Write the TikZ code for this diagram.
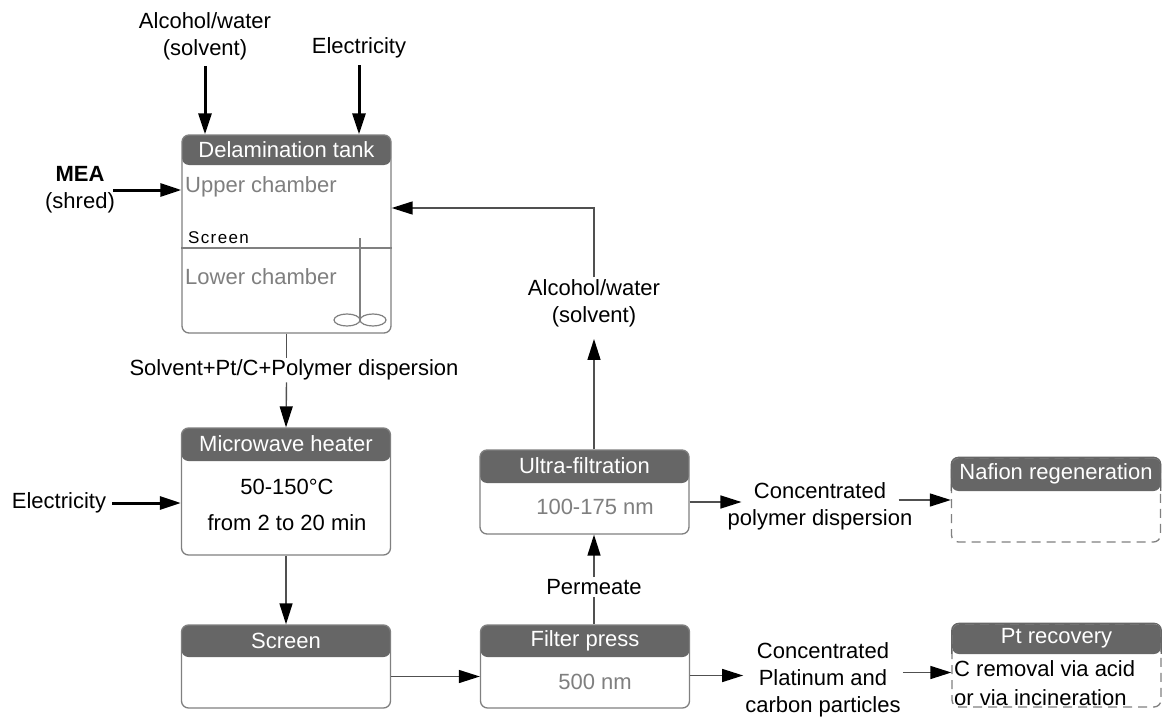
\documentclass[tikz,border=0pt]{standalone}
\usepackage{fontspec}
\setmainfont{Liberation Sans}
\usetikzlibrary{positioning,arrows.meta}

\definecolor{headgray}{HTML}{666666}
\definecolor{boxgray}{HTML}{808080}
\definecolor{linegray}{HTML}{505050}
\definecolor{softtext}{HTML}{7F7F7F}

\tikzset{
  unit/.style={draw=boxgray, line width=1.3pt, rounded corners=7pt, fill=white,
    minimum width=209pt, inner sep=0pt,
    path picture={\fill[headgray] (path picture bounding box.north west)
      rectangle ([yshift=-#1]path picture bounding box.north east);}},
  unit/.default=32pt,
  unitdash/.style={unit=#1, dash pattern=on 9pt off 6pt},
  unitdash/.default=32pt,
  head/.style={text=white, minimum height=#1, minimum width=209pt, anchor=north, inner sep=0pt},
  head/.default=32pt,
  headrim/.style={draw=headgray, line width=1.3pt, rounded corners=7pt},
  lbl/.style={align=center, inner sep=2pt},
  txt/.style={inner sep=1pt},
  soft/.style={txt, text=softtext},
  feed/.style={->, line width=3pt, draw=black},
  flow/.style={->, line width=1.4pt, draw=linegray},
}

\begin{document}
\begin{tikzpicture}[x=1pt, y=-1pt, font=\fontsize{22}{27}\selectfont,
    >={Triangle[length=21pt,width=13pt,color=black]}]
  \useasboundingbox (0,0) rectangle (1163,717);

  % Define the nodes
  \node (del) [unit=30pt, minimum height=198pt] at (286.5,234) {};
  \node (delhd) [head=30pt] at (del.north) {Delamination tank};
  \node (heat) [unit=33pt, minimum height=127pt] at (286,491.5) {};
  \node (heathd) [head=33pt] at (heat.north) {Microwave heater};
  \node (scr) [unit, minimum height=83pt] at (286,666.5) {};
  \node (scrhd) [head] at (scr.north) {Screen};
  \node (filt) [unit, minimum height=83pt] at (585,666.5) {};
  \node (filthd) [head] at (filt.north) {Filter press};
  \node (ultra) [unit=33pt, minimum height=84pt] at (584.5,492) {};
  \node (ultrahd) [head=33pt] at (ultra.north) {Ultra-filtration};
  \node (naf) [unitdash=33pt, minimum height=84pt] at (1056,500) {};
  \node (nafhd) [head=33pt] at (naf.north) {Nafion regeneration};
  \node (ptr) [unitdash=30pt, minimum height=83pt] at (1056.5,665.5) {};
  \node (ptrhd) [head=30pt] at (ptr.north) {Pt recovery};

  % Solid rim round the headers of the dashed boxes
  \draw[headrim] (nafhd.south west) -- (nafhd.north west) -- (nafhd.north east) -- (nafhd.south east);
  \draw[headrim] (ptrhd.south west) -- (ptrhd.north west) -- (ptrhd.north east) -- (ptrhd.south east);

  % Inside the boxes
  \coordinate (scrlvl) at (0,248);
  \draw[boxgray, line width=1.3pt] (del.west |- scrlvl) -- (del.east |- scrlvl);
  \node (upper) [soft, anchor=west] at (184,187) {Upper chamber};
  \node (mesh) [txt, anchor=west, font=\fontsize{17}{20}\selectfont\addfontfeature{LetterSpace=8}]
    at (187,238) {Screen};
  \node (lower) [soft, anchor=west] at (184,277) {Lower chamber};
  \draw[boxgray, line width=1.2pt] (360,238) -- (360,320);
  \draw[boxgray, line width=1.2pt] (347,320) ellipse [x radius=13, y radius=6];
  \draw[boxgray, line width=1.2pt] (373,320) ellipse [x radius=13, y radius=6];
  \node (temp) [txt] at (287,487) {50-150°C};
  \node (time) [txt] at (287,523) {from 2 to 20 min};
  \node (ufsize) [soft] at (595,507) {100-175 nm};
  \node (fpsize) [soft] at (595,682) {500 nm};
  \node (crem) [txt, align=left, anchor=west, font=\fontsize{22}{29}\selectfont]
    at (953,683) {C removal via acid\\or via incineration};

  % Stream labels
  \node (alc) [lbl] at (205,36) {Alcohol/water\\(solvent)};
  \node (elec) [lbl] at (359,48) {Electricity};
  \node (mea) [lbl] at (80,190) {\textbf{MEA}\\(shred)};
  \node (elec2) [lbl] at (59,503) {Electricity};
  \node (sol) [lbl] at (294,370) {Solvent+Pt/C+Polymer dispersion};
  \node (solv) [lbl] at (594,303) {Alcohol/water\\(solvent)};
  \node (perm) [lbl] at (594,587) {Permeate};
  \node (cpd) [lbl] at (820,506) {Concentrated\\polymer dispersion};
  \node (cpc) [lbl] at (823,680) {Concentrated\\Platinum and\\carbon particles};

  % Draw the arrows
  \draw[feed, shorten <=4pt] (alc.south) -- (alc.south |- del.north);
  \draw[feed, shorten <=5pt] (elec.south) -- (elec.south |- del.north);
  \draw[feed] ([xshift=-4pt]mea.east) -- (mea.east -| del.west);
  \draw[feed, shorten <=4pt] (elec2.east) -- (elec2.east -| heat.west);

  \draw[flow, -] (del.south) -- (del.south |- sol.north);
  \draw[flow] (del.south |- sol.south) -- (heat.north);
  \draw[flow] (heat.south) -- (scr.north);

  \coordinate (scrout) at ([yshift=-10pt]scr.east);
  \draw[flow] (scrout) -- (scrout -| filt.west);

  \coordinate (permup) at ([xshift=9pt]filt.north);
  \draw[flow, -] (permup) -- (perm.south);
  \draw[flow] (perm.north) -- (perm.north |- ultra.south);
  \draw[flow, shorten >=10pt] (perm.north |- ultra.north) -- (solv.south);
  \draw[flow] (solv.north) |- ([yshift=26pt]del.east);

  \coordinate (ultraout) at ([yshift=-10pt]ultra.east);
  \coordinate (cpdin) at ([xshift=16pt]cpd.west);
  \coordinate (cpdout) at ([xshift=-16pt]cpd.east);
  \draw[flow] (ultraout) -- (cpdin |- ultraout);
  \draw[flow] (cpdout |- naf.west) -- (naf.west);

  \coordinate (filtout) at ([yshift=-9pt]filt.east);
  \coordinate (ptrin) at ([yshift=-7pt]ptr.west);
  \draw[flow] (filtout) -- (filtout -| cpc.west);
  \draw[flow] (ptrin -| cpc.east) -- (ptrin);
\end{tikzpicture}
\end{document}
